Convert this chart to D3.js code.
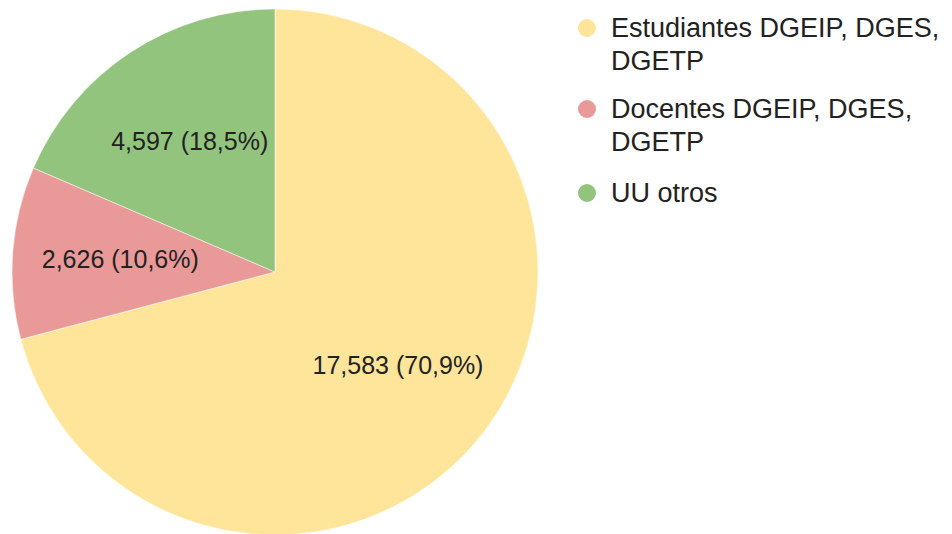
<!DOCTYPE html>
<html>
  <head>
    <meta charset="utf-8">
    <title>Usuarios</title>
    <script src="https://cdn.jsdelivr.net/npm/d3@7"></script>
    <style>
      body { margin: 0; background: #fff; }
      text { font-family: "Liberation Sans", Arial, sans-serif; fill: #222; }
    </style>
  </head>
  <body>
    <div id="chart"></div>
    <script>
      var categories = ['Estudiantes DGEIP, DGES, DGETP', 'Docentes DGEIP, DGES, DGETP', 'UU otros'];
      var legendLines = [['Estudiantes DGEIP, DGES,', 'DGETP'], ['Docentes DGEIP, DGES,', 'DGETP'], ['UU otros']];
      var values = [17583, 2626, 4597];
      var percentLabels = ['70,9%', '10,6%', '18,5%'];
      var colors = ['#ffe599', '#ea9999', '#93c47d'];

      var width = 952, height = 534;
      var cx = 275, cy = 272, radius = 263;

      var svg = d3.select('#chart').append('svg')
        .attr('width', width)
        .attr('height', height);

      var color = d3.scaleOrdinal().domain(categories).range(colors);

      var pie = d3.pie().value(function(d) { return d.value; }).sort(null);
      var arc = d3.arc().innerRadius(0).outerRadius(radius);
      var labelArc = d3.arc().innerRadius(radius * 0.59).outerRadius(radius * 0.59);

      var data = categories.map(function(c, i) {
        return { name: c, value: values[i], pct: percentLabels[i] };
      });

      var g = svg.append('g').attr('transform', 'translate(' + cx + ',' + cy + ')');

      g.selectAll('path')
        .data(pie(data))
        .enter()
        .append('path')
        .attr('d', arc)
        .attr('fill', function(d) { return color(d.data.name); })
        .attr('stroke', '#fff')
        .attr('stroke-width', 0.5);

      g.selectAll('text.lbl')
        .data(pie(data))
        .enter()
        .append('text')
        .attr('class', 'lbl')
        .attr('transform', function(d) { return 'translate(' + labelArc.centroid(d) + ')'; })
        .attr('text-anchor', 'middle')
        .attr('dy', '0.3em')
        .style('font-size', '25px')
        .text(function(d) { return d3.format(',')(d.data.value) + ' (' + d.data.pct + ')'; });

      // legend
      var legendY = [28, 109, 193];
      var legend = svg.selectAll('.legend')
        .data(categories)
        .enter()
        .append('g')
        .attr('class', 'legend')
        .attr('transform', function(d, i) { return 'translate(587,' + legendY[i] + ')'; });

      legend.append('circle')
        .attr('r', 9)
        .attr('fill', function(d) { return color(d); });

      legend.each(function(d, i) {
        var t = d3.select(this).append('text')
          .attr('x', 24)
          .attr('y', 9)
          .style('font-size', '27px');
        legendLines[i].forEach(function(line, j) {
          t.append('tspan').attr('x', 24).attr('dy', j === 0 ? 0 : 33).text(line);
        });
      });
    </script>
  </body>
</html>
